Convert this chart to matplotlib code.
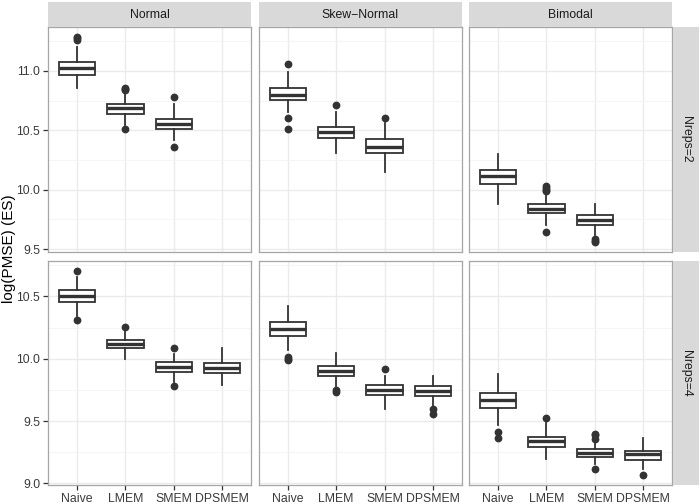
import matplotlib
matplotlib.use("Agg")
import matplotlib.pyplot as plt
from matplotlib.ticker import FormatStrFormatter
import numpy as np

plt.rcParams['font.family'] = ['Liberation Sans', 'DejaVu Sans']

# Facet labels and categories
methods = ["Naive", "LMEM", "SMEM", "DPSMEM"]
dists = ["Normal", "Skew\u2212Normal", "Bimodal"]
nreps = ["Nreps=2", "Nreps=4"]

# Box statistics, Nreps=2 (Naive, LMEM, SMEM per distribution)
med_n2 = [[11.023, 10.686, 10.556], [10.798, 10.486, 10.362], [10.117, 9.842, 9.744]]
q1_n2 = [[10.969, 10.637, 10.511], [10.755, 10.435, 10.306], [10.047, 9.805, 9.707]]
q3_n2 = [[11.073, 10.719, 10.598], [10.854, 10.530, 10.424], [10.165, 9.884, 9.786]]
lo_n2 = [[10.854, 10.545, 10.418], [10.657, 10.306, 10.151], [9.884, 9.702, 9.617]]
hi_n2 = [[11.205, 10.812, 10.722], [10.994, 10.657, 10.559], [10.298, 9.969, 9.879]]
fl_n2 = [[[11.264, 11.274, 11.284], [10.84, 10.85, 10.86, 10.511], [10.778, 10.362]],
         [[11.056, 10.601, 10.508], [10.711], [10.601]],
         [[], [9.988, 10.0, 10.015, 10.03, 9.645], [9.585, 9.572, 9.56]]]

# Nreps=4 (Naive, LMEM, SMEM, DPSMEM per distribution)
med_n4 = [[10.500, 10.117, 9.937, 9.929], [10.241, 9.902, 9.746, 9.738], [9.667, 9.341, 9.244, 9.236]]
q1_n4 = [[10.452, 10.083, 9.897, 9.884], [10.180, 9.865, 9.706, 9.704], [9.603, 9.294, 9.210, 9.188]]
q3_n4 = [[10.553, 10.148, 9.971, 9.963], [10.294, 9.942, 9.786, 9.778], [9.725, 9.376, 9.273, 9.262]]
lo_n4 = [[10.341, 9.998, 9.817, 9.791], [10.069, 9.778, 9.593, 9.619], [9.466, 9.196, 9.156, 9.117]]
hi_n4 = [[10.656, 10.220, 10.037, 10.083], [10.426, 10.043, 9.863, 9.863], [9.879, 9.487, 9.333, 9.363]]
fl_n4 = [[[10.704, 10.307], [10.254], [10.083, 9.778], []],
         [[10.01, 10.0, 9.99], [9.745, 9.735], [9.918], [9.593, 9.553]],
         [[9.416, 9.368], [9.521], [9.40, 9.385, 9.36, 9.114], [9.069]]]

yticks_rows = [[9.5, 10.0, 10.5, 11.0], [9.0, 9.5, 10.0, 10.5]]

rows = [(med_n2, q1_n2, q3_n2, lo_n2, hi_n2, fl_n2),
        (med_n4, q1_n4, q3_n4, lo_n4, hi_n4, fl_n4)]

W, H = 700, 504
fig = plt.figure(figsize=(W / 100, H / 100), dpi=100)

def px_axes(x0, y0, x1, y1):
    return fig.add_axes([x0 / W, 1 - y1 / H, (x1 - x0) / W, (y1 - y0) / H])

panel_x = [(48, 251.3), (258.7, 462), (469, 672.3)]
panel_y = [(27, 252.3), (260.7, 485)]

grey_line = "#333333"
border = "#a6a6a6"
strip_fill = "#d9d9d9"

for r, (med, q1, q3, lo, hi, fl) in enumerate(rows):
    # free y scale per row, 5% expansion like ggplot
    vals = []
    for d in range(3):
        vals += lo[d] + hi[d]
        for f in fl[d]:
            vals += f
    vmin, vmax = min(vals), max(vals)
    pad = 0.05 * (vmax - vmin)
    ylim = (vmin - pad, vmax + pad)
    major = yticks_rows[r]
    minor = [t + 0.25 for t in [major[0] - 0.5] + major]
    minor = [t for t in minor if ylim[0] < t < ylim[1]]

    for d in range(3):
        x0, x1 = panel_x[d]
        y0, y1 = panel_y[r]
        ax = px_axes(x0, y0, x1, y1)
        stats = []
        for m in range(len(med[d])):
            stats.append(dict(med=med[d][m], q1=q1[d][m], q3=q3[d][m],
                              whislo=lo[d][m], whishi=hi[d][m], fliers=fl[d][m]))
        ax.bxp(stats, positions=np.arange(1, len(stats) + 1), widths=0.75,
               patch_artist=True, showcaps=False,
               boxprops=dict(facecolor="white", edgecolor=grey_line, linewidth=1.3),
               medianprops=dict(color=grey_line, linewidth=2.4),
               whiskerprops=dict(color=grey_line, linewidth=1.3),
               flierprops=dict(marker="o", markerfacecolor=grey_line,
                               markeredgecolor=grey_line, markersize=4.6))
        ax.set_xlim(0.4, 4.6)
        ax.set_ylim(ylim)
        ax.set_xticks(range(1, 5))
        ax.set_xticklabels(methods)
        ax.set_yticks(major)
        ax.set_yticks(minor, minor=True)
        ax.yaxis.set_major_formatter(FormatStrFormatter("%.1f"))
        ax.set_axisbelow(True)
        ax.grid(True, which="major", color="#ebebeb", linewidth=1.0)
        ax.grid(True, which="minor", axis="y", color="#f4f4f4", linewidth=0.6)
        for s in ax.spines.values():
            s.set_color(border)
            s.set_linewidth(0.9)
        ax.tick_params(which="minor", length=0)
        ax.tick_params(which="major", length=3.5, color=grey_line, width=0.9,
                       labelcolor="#3a3a3a", labelsize=8.8, pad=2)
        if r == 0:
            ax.tick_params(axis="x", length=0, labelbottom=False)
        if d > 0:
            ax.tick_params(axis="y", length=0, labelleft=False)

# column strips
for d in range(3):
    x0, x1 = panel_x[d]
    sax = px_axes(x0, 2, x1, 27)
    sax.set_facecolor(strip_fill)
    sax.set_xticks([])
    sax.set_yticks([])
    for s in sax.spines.values():
        s.set_visible(False)
    sax.text(0.5, 0.5, dists[d], ha="center", va="center", fontsize=8.8,
             color="#1a1a1a", transform=sax.transAxes)

# row strips
for r in range(2):
    y0, y1 = panel_y[r]
    sax = px_axes(673, y0, 699, y1)
    sax.set_facecolor(strip_fill)
    sax.set_xticks([])
    sax.set_yticks([])
    for s in sax.spines.values():
        s.set_visible(False)
    sax.text(0.5, 0.5, nreps[r], ha="center", va="center", fontsize=8.8,
             rotation=-90, color="#1a1a1a", transform=sax.transAxes)

fig.text(9 / W, 1 - 249 / H, "log(PMSE) (ES)", rotation=90, ha="center",
         va="center", fontsize=11)

fig.savefig("out.png", dpi=100)
